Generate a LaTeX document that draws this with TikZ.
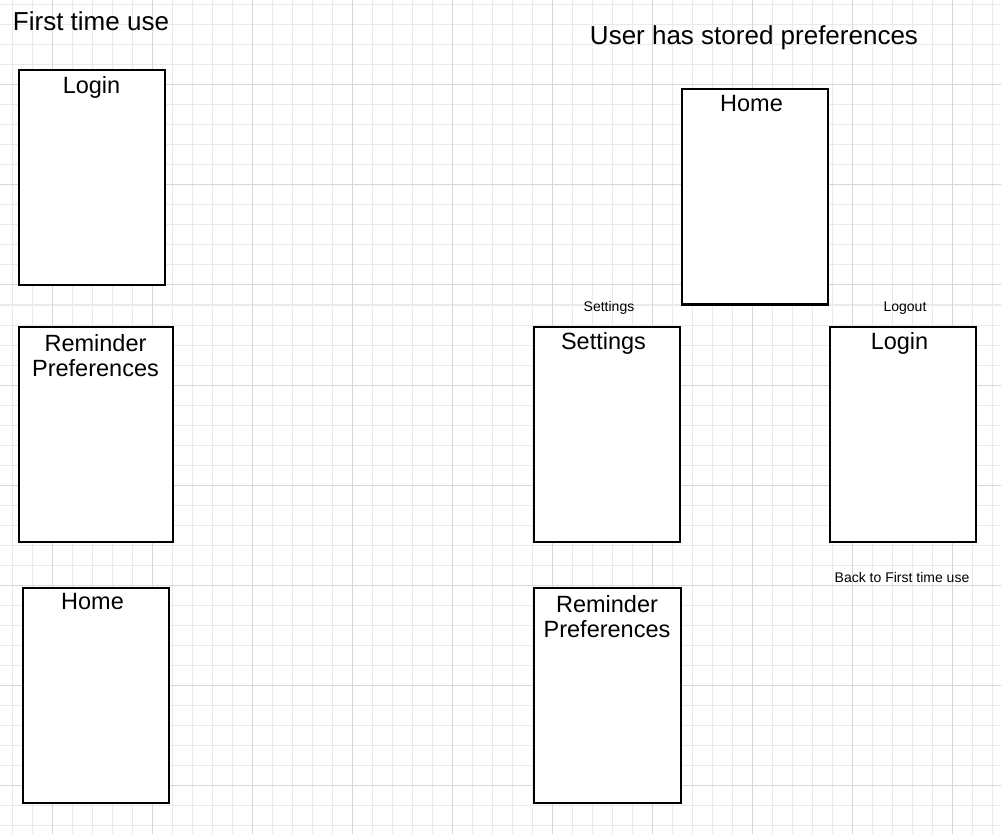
\documentclass[tikz,border=0pt]{standalone}
\usepackage{fontspec}
\setmainfont{Liberation Sans}
\usetikzlibrary{positioning}
\definecolor{gridminor}{RGB}{234,234,234}
\definecolor{gridmajor}{RGB}{214,214,214}
\tikzset{
  screen/.style={draw=black, line width=2pt, fill=white, anchor=north west,
    minimum width=146pt, minimum height=215pt, inner sep=0pt},
  screenlabel/.style={anchor=north, inner sep=0pt, yshift=-7pt, align=center,
    font=\fontsize{23.5}{25}\selectfont},
  titletext/.style={anchor=base, inner sep=0pt, font=\fontsize{26}{29}\selectfont},
  tagtext/.style={anchor=base, inner sep=0pt, font=\fontsize{14}{16}\selectfont}
}
\begin{document}
\begin{tikzpicture}[x=1pt, y=-1pt]
\useasboundingbox[fill=white] (0,0) rectangle (1001,834);
% -- background grid --
\foreach \gx in {12,32,...,992}
  \draw[gridminor, line width=1pt] (\gx,0) -- (\gx,834);
\foreach \gy in {5,25,...,825}
  \draw[gridminor, line width=1pt] (0,\gy) -- (1001,\gy);
\foreach \gx in {52,152,...,952}
  \draw[gridmajor, line width=1pt] (\gx,0) -- (\gx,834);
\foreach \gy in {85,185,...,785}
  \draw[gridmajor, line width=1pt] (0,\gy) -- (1001,\gy);
% -- Left: first time use --
\node[titletext] (firstTitle) at (91,31) {First time use};
\node[screen, label={[screenlabel]north:Login}] (loginFirst) at (17.5,69.5) {};
\node[screen, minimum width=154pt,
  label={[screenlabel, yshift=-2pt]north:Reminder\\Preferences}] (remindFirst) at (17.5,325.5) {};
\node[screen, label={[screenlabel, xshift=-3pt]north:Home}] (homeFirst) at (21.5,586.5) {};
% -- Right: stored preferences --
\node[titletext] (storedTitle) at (754,45) {User has stored preferences};
\node[screen, label={[screenlabel, xshift=-3pt]north:Home}] (homeStored) at (680.5,88.5) {};
\node[screen, label={[screenlabel, xshift=-3pt]north:Settings}] (settingsStored) at (532.5,325.5) {};
\node[screen, label={[screenlabel, xshift=-3pt]north:Login}] (loginStored) at (828.5,325.5) {};
\node[screen, minimum width=147pt,
  label={[screenlabel, yshift=-2pt]north:Reminder\\Preferences}] (remindStored) at (532.5,586.5) {};
% small tags
\node[tagtext] (settingsTag) at (609,312) {Settings};
\node[tagtext] (logoutTag) at (905,312) {Logout};
\node[tagtext] (backTag) at (902,582) {Back to First time use};
\end{tikzpicture}
\end{document}
